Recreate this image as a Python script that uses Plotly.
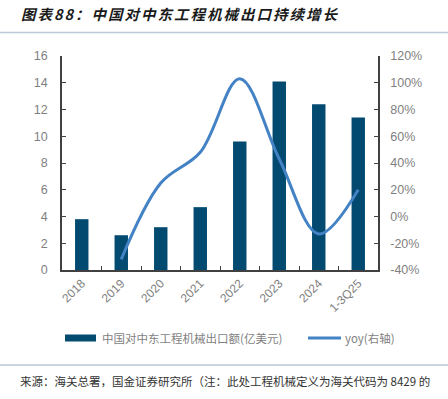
import plotly.graph_objects as go

categories = ["2018", "2019", "2020", "2021", "2022", "2023", "2024", "1-3Q25"]
export_value = [3.8, 2.6, 3.2, 4.7, 9.6, 14.1, 12.4, 11.4]
yoy_cats = ["2019", "2020", "2021", "2022", "2023", "2024", "1-3Q25"]
yoy_pct = [-32, 25, 48, 103, 43, -13, 20]
left_ticks = [0, 2, 4, 6, 8, 10, 12, 14, 16]
right_ticks = [-40, -20, 0, 20, 40, 60, 80, 100, 120]
right_tick_labels = [f"{v}%" for v in right_ticks]

title_text = "图表88：中国对中东工程机械出口持续增长"
source_text = "来源：海关总署，国金证券研究所（注：此处工程机械定义为海关代码为 8429 的"
bar_name = "中国对中东工程机械出口额(亿美元)"
line_name = "yoy(右轴)"

BAR_COLOR = "#024a70"
LINE_COLOR = "#4382c4"
GRAY = "#7f7f7f"
AXIS = "#404040"
NUM_FONT = "Liberation Sans, Arial, sans-serif"
CJK_FONT = "Noto Sans CJK SC, sans-serif"

W, H = 448, 399
L, R, T, B = 62, 378, 56, 270

def px(x):
    return (x - L) / (R - L)

def py(y):
    return (B - y) / (B - T)

fig = go.Figure()
fig.add_trace(go.Bar(x=categories, y=export_value, name=bar_name,
                     marker=dict(color=BAR_COLOR, line=dict(width=0)),
                     width=0.34, yaxis="y"))
fig.add_trace(go.Scatter(x=yoy_cats, y=yoy_pct, name=line_name, mode="lines",
                         line=dict(color=LINE_COLOR, width=3, shape="spline", smoothing=1.0),
                         yaxis="y2"))

fig.update_layout(
    width=W, height=H,
    margin=dict(l=L, r=W - R, t=T, b=H - B, pad=0),
    paper_bgcolor="white", plot_bgcolor="white",
    showlegend=False,
    xaxis=dict(type="category", categoryorder="array", categoryarray=categories,
               range=[-0.5, 7.5], showline=True, linecolor=AXIS, linewidth=1.5,
               ticks="inside", ticklen=4, tickcolor=AXIS, tickson="boundaries",
               tickangle=-45, tickfont=dict(family=NUM_FONT, size=12, color=GRAY),
               showgrid=False, zeroline=False),
    yaxis=dict(range=[0, 16], tickvals=left_ticks, showline=True, linecolor=AXIS,
               linewidth=1.5, ticks="inside", ticklen=4, tickcolor=AXIS,
               tickfont=dict(family=NUM_FONT, size=12.5, color=GRAY),
               ticklabelstandoff=10,
               showgrid=False, zeroline=False),
    yaxis2=dict(range=[-40, 120], tickvals=right_ticks, ticktext=right_tick_labels,
                overlaying="y", side="right", showline=True, linecolor=AXIS,
                linewidth=1.5, ticks="inside", ticklen=4, tickcolor=AXIS,
                tickfont=dict(family=NUM_FONT, size=12.5, color=GRAY),
                ticklabelstandoff=8,
                showgrid=False, zeroline=False),
)

shapes = []
annotations = []
# title & separator lines
annotations.append(dict(text='<b><i><span style="letter-spacing:2px">' + title_text + "</span></i></b>",
                        xref="paper", yref="paper",
                        x=px(19), y=py(13), xanchor="left", yanchor="middle", showarrow=False,
                        font=dict(family=CJK_FONT, size=14.5, color="#1a1a1a")))
shapes.append(dict(type="line", xref="paper", yref="paper", x0=px(0), x1=px(448),
                   y0=py(32.5), y1=py(32.5), line=dict(color="#bccbd9", width=1.5)))
shapes.append(dict(type="line", xref="paper", yref="paper", x0=px(0), x1=px(448),
                   y0=py(365), y1=py(365), line=dict(color="#9aaabb", width=1.2)))
annotations.append(dict(text=source_text, xref="paper", yref="paper",
                        x=px(18), y=py(381), xanchor="left", yanchor="middle", showarrow=False,
                        font=dict(family=CJK_FONT, size=11.5, color="#333333")))
# custom legend
shapes.append(dict(type="rect", xref="paper", yref="paper", x0=px(65), x1=px(96),
                   y0=py(341.5), y1=py(334.5), fillcolor=BAR_COLOR, line=dict(width=0)))
annotations.append(dict(text=bar_name, xref="paper", yref="paper",
                        x=px(100), y=py(338), xanchor="left", yanchor="middle", showarrow=False,
                        font=dict(family=CJK_FONT, size=11.5, color=GRAY)))
shapes.append(dict(type="line", xref="paper", yref="paper", x0=px(308), x1=px(341),
                   y0=py(338), y1=py(338), line=dict(color=LINE_COLOR, width=3)))
annotations.append(dict(text=line_name, xref="paper", yref="paper",
                        x=px(343), y=py(338), xanchor="left", yanchor="middle", showarrow=False,
                        font=dict(family=CJK_FONT, size=11.5, color=GRAY)))

fig.update_layout(shapes=shapes, annotations=annotations)
fig.write_html("out.html", config={"displayModeBar": False},
               post_script="document.body.style.margin='0';")
